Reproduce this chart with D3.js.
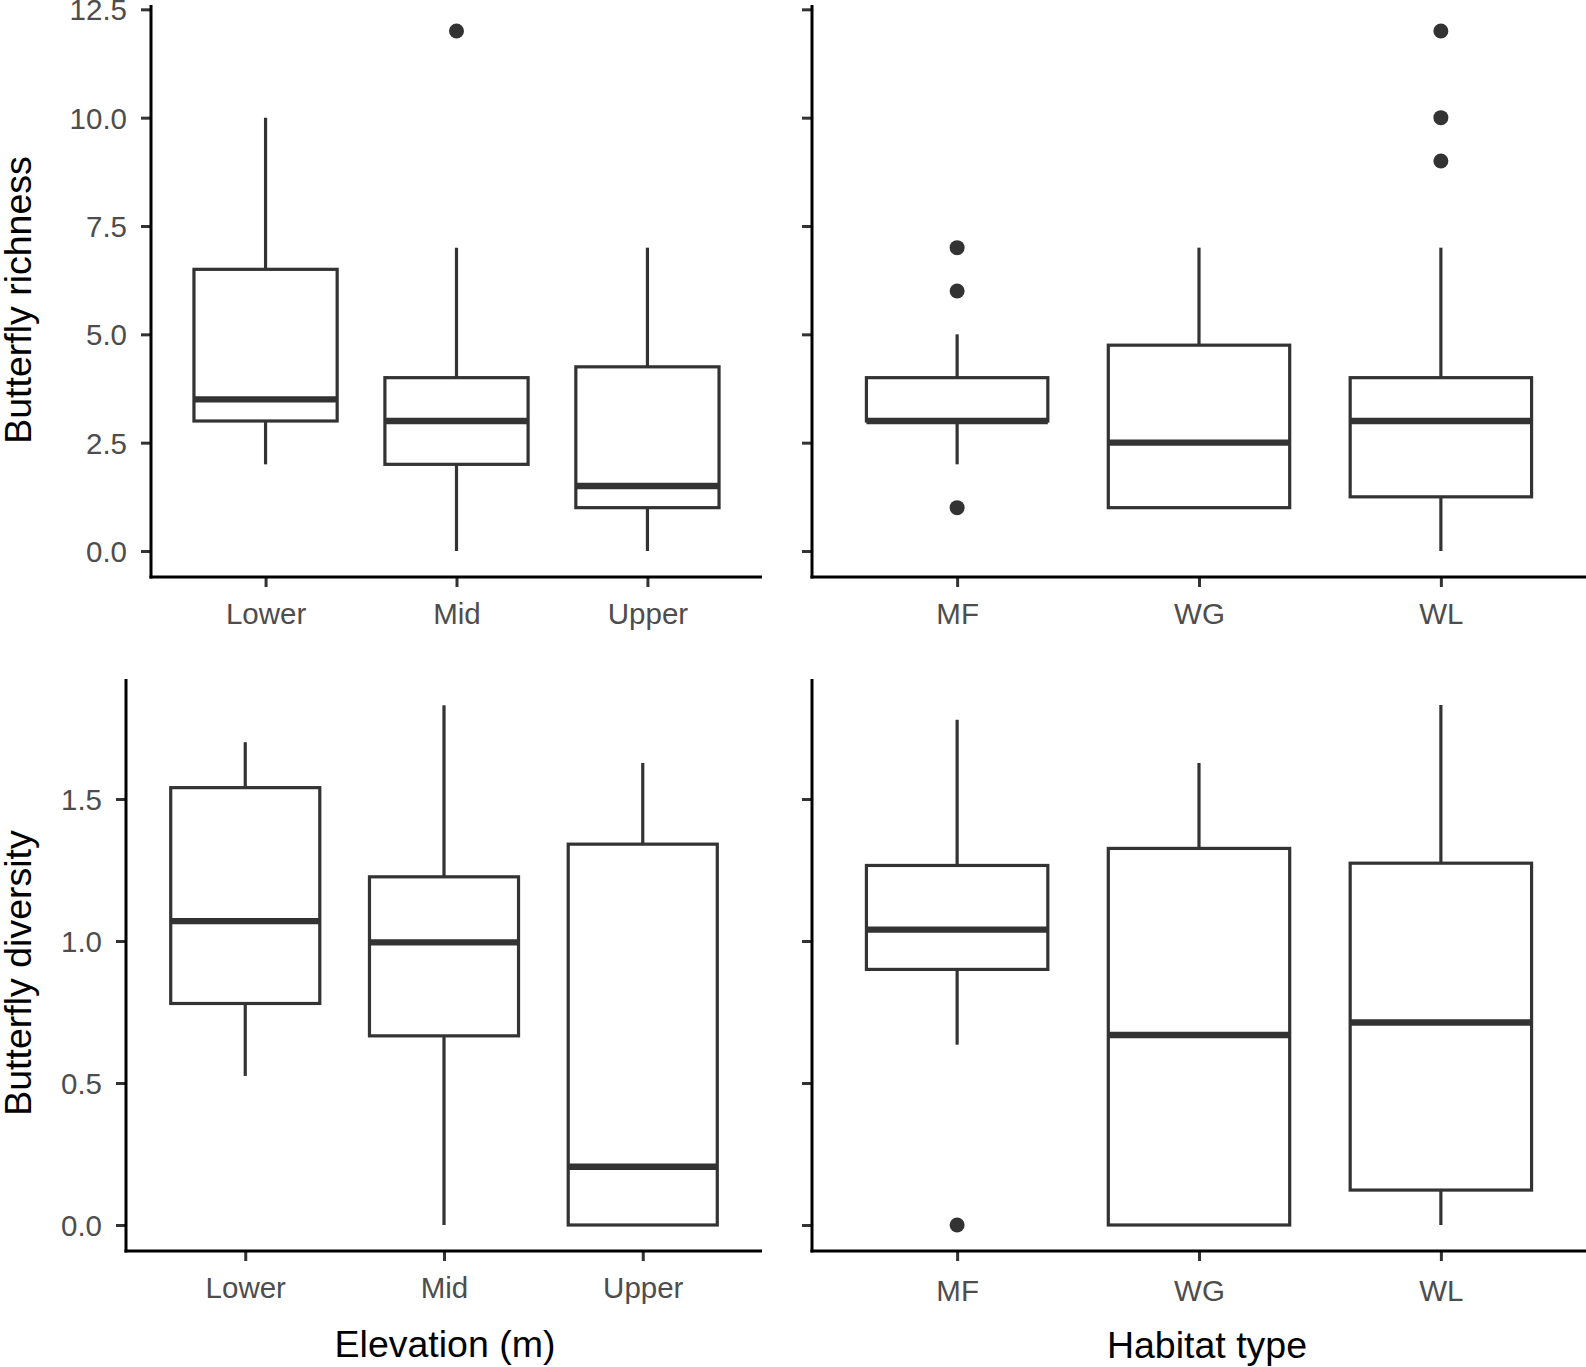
<!DOCTYPE html>
<html>
<head>
<meta charset="utf-8">
<script src="https://cdn.jsdelivr.net/npm/d3@7"></script>
<style>
  html, body { margin: 0; padding: 0; background: #ffffff; }
  svg { display: block; }
  text { font-family: "Liberation Sans", Arial, sans-serif; }
</style>
</head>
<body>
<svg id="chart" width="1586" height="1367"></svg>
<script>
// ---------- data ----------
const elevationCats = ["Lower", "Mid", "Upper"];
const habitatCats = ["MF", "WG", "WL"];

// box stats per category: [lower whisker, Q1, median, Q3, upper whisker]
const richnessElevStats = [[2, 3, 3.5, 6.5, 10], [0, 2, 3, 4, 7], [0, 1, 1.5, 4.25, 7]];
const richnessElevOutliers = [[], [12], []];
const richnessHabStats = [[2, 3, 3, 4, 5], [1, 1, 2.5, 4.75, 7], [0, 1.25, 3, 4, 7]];
const richnessHabOutliers = [[1, 6, 7], [], [9, 10, 12]];

const diversityElevStats = [[0.525, 0.78, 1.07, 1.54, 1.70], [0, 0.666, 0.995, 1.226, 1.83], [0, 0, 0.205, 1.341, 1.627]];
const diversityElevOutliers = [[], [], []];
const diversityHabStats = [[0.635, 0.90, 1.04, 1.266, 1.779], [0, 0, 0.669, 1.326, 1.627], [0, 0.123, 0.713, 1.274, 1.831]];
const diversityHabOutliers = [[0], [], []];

const richnessTicks = [0, 2.5, 5, 7.5, 10, 12.5];
const diversityTicks = [0, 0.5, 1, 1.5];

const yTitleRichness = "Butterfly richness";
const yTitleDiversity = "Butterfly diversity";
const xTitleElevation = "Elevation (m)";
const xTitleHabitat = "Habitat type";

// ---------- layout ----------
const svg = d3.select("#chart");
const ink = "#333333";
const tickFont = 29.5;
const titleFont = 37.5;

function expandedDomain(stats, outliers, mult) {
  const vals = stats.flat().concat(outliers.flat());
  const [lo, hi] = d3.extent(vals);
  const pad = (hi - lo) * mult;
  return [lo - pad, hi + pad];
}

const richDomain = expandedDomain(richnessElevStats.concat(richnessHabStats),
                                  richnessElevOutliers.concat(richnessHabOutliers), 0.05);
const divDomain = expandedDomain(diversityElevStats.concat(diversityHabStats),
                                 diversityElevOutliers.concat(diversityHabOutliers), 0.05);

const panels = [
  { cats: elevationCats, stats: richnessElevStats, outliers: richnessElevOutliers, domain: richDomain,
    ticks: richnessTicks, x0: 151, x1: 762, y0: 5, y1: 577, labels: true, xLabY: 624 },
  { cats: habitatCats, stats: richnessHabStats, outliers: richnessHabOutliers, domain: richDomain,
    ticks: richnessTicks, x0: 812, x1: 1586, y0: 5, y1: 577, labels: false, xLabY: 624 },
  { cats: elevationCats, stats: diversityElevStats, outliers: diversityElevOutliers, domain: divDomain,
    ticks: diversityTicks, x0: 126, x1: 762, y0: 679, y1: 1251, labels: true, xLabY: 1298 },
  { cats: habitatCats, stats: diversityHabStats, outliers: diversityHabOutliers, domain: divDomain,
    ticks: diversityTicks, x0: 812, x1: 1586, y0: 679, y1: 1251, labels: false, xLabY: 1301 }
];

panels.forEach(p => {
  const n = p.cats.length;
  const x = d3.scaleLinear().domain([0.4, n + 0.6]).range([p.x0, p.x1]);
  const y = d3.scaleLinear().domain(p.domain).range([p.y1, p.y0]);
  const unit = x(2) - x(1);
  const bw = 0.75 * unit;
  const g = svg.append("g");

  // y axis
  const yAxis = d3.axisLeft(y).tickValues(p.ticks).tickSize(10).tickPadding(14)
    .tickFormat(p.labels ? d3.format(".1f") : () => "");
  const ya = g.append("g").attr("transform", `translate(${p.x0},0)`).call(yAxis);
  ya.select(".domain").remove();
  ya.selectAll(".tick line").attr("stroke", ink).attr("stroke-width", 3);
  ya.selectAll(".tick text").attr("fill", "#4D4D4D").attr("font-size", tickFont).attr("dy", "0.36em");

  // x axis
  const xAxis = d3.axisBottom(x).tickValues(d3.range(1, n + 1)).tickSize(10)
    .tickFormat(i => p.cats[i - 1]);
  const xa = g.append("g").attr("transform", `translate(0,${p.y1})`).call(xAxis);
  xa.select(".domain").remove();
  xa.selectAll(".tick line").attr("stroke", ink).attr("stroke-width", 3);
  xa.selectAll(".tick text").attr("fill", "#4D4D4D").attr("font-size", tickFont)
    .attr("y", p.xLabY - p.y1).attr("dy", 0);

  // axis lines
  g.append("line").attr("x1", p.x0).attr("x2", p.x0).attr("y1", y.range()[1]).attr("y2", p.y1 + 1.5)
    .attr("stroke", "#000").attr("stroke-width", 3);
  g.append("line").attr("x1", p.x0 - 1.5).attr("x2", p.x1).attr("y1", p.y1).attr("y2", p.y1)
    .attr("stroke", "#000").attr("stroke-width", 3);

  // boxes
  p.stats.forEach((s, i) => {
    const cx = x(i + 1);
    const [lo, q1, med, q3, hi] = s;
    const bg = g.append("g");
    bg.append("line").attr("x1", cx).attr("x2", cx).attr("y1", y(hi)).attr("y2", y(q3))
      .attr("stroke", ink).attr("stroke-width", 3.2);
    bg.append("line").attr("x1", cx).attr("x2", cx).attr("y1", y(q1)).attr("y2", y(lo))
      .attr("stroke", ink).attr("stroke-width", 3.2);
    bg.append("rect").attr("x", cx - bw / 2).attr("width", bw)
      .attr("y", y(q3)).attr("height", y(q1) - y(q3))
      .attr("fill", "#ffffff").attr("stroke", ink).attr("stroke-width", 3.2);
    bg.append("line").attr("x1", cx - bw / 2).attr("x2", cx + bw / 2).attr("y1", y(med)).attr("y2", y(med))
      .attr("stroke", ink).attr("stroke-width", 6.4);
    p.outliers[i].forEach(v => {
      bg.append("circle").attr("cx", cx).attr("cy", y(v)).attr("r", 7.5).attr("fill", ink);
    });
  });
});

// axis titles
svg.append("text").attr("transform", "translate(31,300) rotate(-90)").attr("text-anchor", "middle")
  .attr("font-size", titleFont).attr("fill", "#000").text(yTitleRichness);
svg.append("text").attr("transform", "translate(31,973) rotate(-90)").attr("text-anchor", "middle")
  .attr("font-size", titleFont).attr("fill", "#000").text(yTitleDiversity);
svg.append("text").attr("x", 445).attr("y", 1357).attr("text-anchor", "middle")
  .attr("font-size", titleFont).attr("fill", "#000").text(xTitleElevation);
svg.append("text").attr("x", 1207).attr("y", 1358).attr("text-anchor", "middle")
  .attr("font-size", titleFont).attr("fill", "#000").text(xTitleHabitat);
</script>
</body>
</html>
